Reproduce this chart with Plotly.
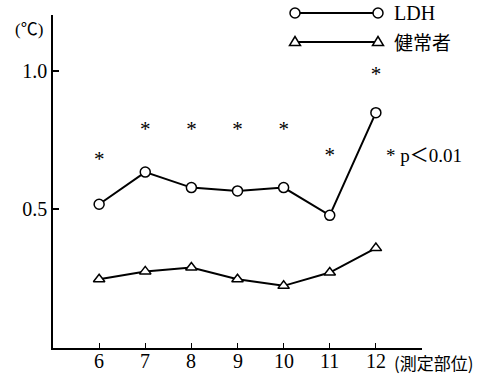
import plotly.graph_objects as go

# ---- data ----
sites = [6, 7, 8, 9, 10, 11, 12]
site_labels = ["6", "7", "8", "9", "10", "11", "12"]
ldh = [0.518, 0.634, 0.578, 0.566, 0.578, 0.478, 0.848]
healthy = [0.248, 0.276, 0.290, 0.248, 0.224, 0.272, 0.360]
sig_y = [0.674, 0.782, 0.782, 0.782, 0.782, 0.688, 0.982]
sig_marks = ["*", "*", "*", "*", "*", "*", "*"]
y_tickvals = [0.5, 1.0]
y_ticktext = ["0.5", "1.0"]
series_names = ["LDH", "健常者"]

SERIF = "Liberation Serif, Noto Sans CJK JP, serif"
CJK = "Noto Sans CJK JP, Liberation Serif, serif"

W, H = 501, 375
L, R, T, B = 53, 79, 15, 27
PW, PH = W - L - R, H - T - B


def px(x):
    return (x - L) / PW


def py(y):
    return (H - B - y) / PH


fig = go.Figure()

circle_marker = dict(symbol="circle", size=10, color="white",
                     line=dict(color="black", width=1.5))
tri_marker = dict(symbol="triangle-up", size=10, color="white",
                  line=dict(color="black", width=1.5))

fig.add_trace(go.Scatter(x=sites, y=ldh, mode="lines+markers", name=series_names[0],
                         line=dict(color="black", width=2), marker=circle_marker,
                         showlegend=False, cliponaxis=False))
fig.add_trace(go.Scatter(x=sites, y=healthy, mode="lines+markers", name=series_names[1],
                         line=dict(color="black", width=2), marker=tri_marker,
                         showlegend=False, cliponaxis=False))
fig.add_trace(go.Scatter(x=sites, y=sig_y, mode="text", text=sig_marks,
                         textposition="middle center",
                         textfont=dict(family=SERIF, size=21, color="black"),
                         showlegend=False, cliponaxis=False, hoverinfo="skip"))

# custom legend drawn with shapes (paper coordinates, pixel-sized markers)
shapes = []
for yy, kind in [(13, "circle"), (42, "triangle")]:
    shapes.append(dict(type="line", xref="paper", yref="paper",
                       x0=px(295), x1=px(378), y0=py(yy), y1=py(yy),
                       line=dict(color="black", width=2)))
    for xx in (295, 378):
        if kind == "circle":
            shapes.append(dict(type="circle", xref="paper", yref="paper",
                               xsizemode="pixel", ysizemode="pixel",
                               xanchor=px(xx), yanchor=py(yy),
                               x0=-5, x1=5, y0=-5, y1=5,
                               fillcolor="white", line=dict(color="black", width=1.5)))
        else:
            shapes.append(dict(type="path", xref="paper", yref="paper",
                               xsizemode="pixel", ysizemode="pixel",
                               xanchor=px(xx), yanchor=py(yy),
                               path="M -5.5 -3.5 L 5.5 -3.5 L 0 5.5 Z",
                               fillcolor="white", line=dict(color="black", width=1.5)))

annotations = [
    dict(text=series_names[0], x=px(392), y=py(13), font=dict(family=SERIF, size=20)),
    dict(text=series_names[1], x=px(392), y=py(42), font=dict(family=CJK, size=19)),
    dict(text="* p＜0.01", x=px(384), y=py(155), font=dict(family=SERIF, size=19)),
    dict(text="(測定部位)", x=px(392), y=py(362), font=dict(family=CJK, size=17)),
    dict(text="(℃)", x=px(29), y=py(30), xanchor="center", font=dict(family=SERIF, size=17)),
]
for a in annotations:
    a.setdefault("xanchor", "left")
    a.update(xref="paper", yref="paper", yanchor="middle", showarrow=False)
    a["font"]["color"] = "black"

# x tick labels placed on the data axis
for s, lab in zip(sites, site_labels):
    annotations.append(dict(text=lab, x=s, xref="x", y=py(361), yref="paper",
                            xanchor="center", yanchor="middle", showarrow=False,
                            font=dict(family=SERIF, size=20, color="black")))

fig.update_layout(
    width=W, height=H,
    margin=dict(l=L, r=R, t=T, b=B, autoexpand=False),
    paper_bgcolor="white", plot_bgcolor="white",
    annotations=annotations,
    shapes=shapes,
    xaxis=dict(range=[5, 13], tickvals=sites, ticks="inside", ticklen=5, tickwidth=1,
               tickcolor="black", showline=True, linecolor="black", linewidth=1.5,
               showgrid=False, zeroline=False, automargin=False, showticklabels=False),
    yaxis=dict(range=[0, 1.2], tickvals=y_tickvals, ticktext=y_ticktext, ticks="inside",
               ticklen=6, tickwidth=1.5, tickcolor="black", showline=True,
               linecolor="black", linewidth=1.5, showgrid=False, zeroline=False,
               automargin=False,
               tickfont=dict(family=SERIF, size=20, color="black")),
)

fig.write_html("out.html",
               config={"displayModeBar": False},
               post_script="document.body.style.margin='0';document.body.style.overflow='hidden';")
